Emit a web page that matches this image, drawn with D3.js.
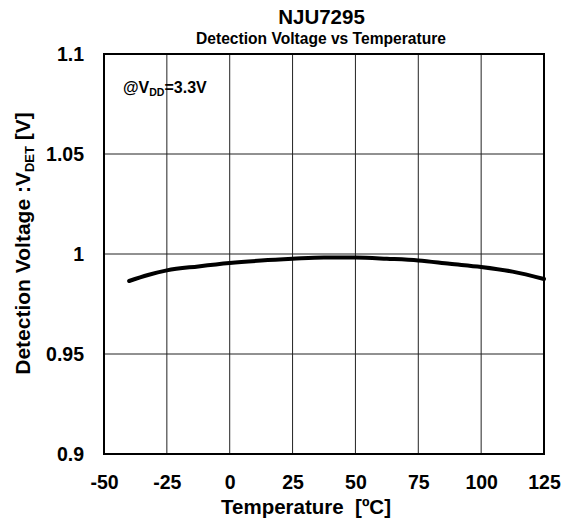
<!DOCTYPE html>
<html>
<head>
<meta charset="utf-8">
<script src="https://cdn.jsdelivr.net/npm/d3@7/dist/d3.min.js"></script>
<style>
  html, body { margin: 0; padding: 0; background: #fff; }
  svg { display: block; font-family: "Liberation Sans", Arial, Helvetica, sans-serif; font-weight: bold; }
</style>
</head>
<body>
<svg id="chart" width="561" height="527"></svg>
<script>
// ---- data ----
const temperatures = [-40, -32.5, -25, -12.5, 0, 12.5, 25, 37.5, 50, 62.5, 75, 87.5, 100, 112.5, 125];
const vdet = [0.9865, 0.9895, 0.9918, 0.9938, 0.9955, 0.9967, 0.9976, 0.9983, 0.9982, 0.9976, 0.9968, 0.9951, 0.9935, 0.9912, 0.9875];
const xTicks = [-50, -25, 0, 25, 50, 75, 100, 125];
const xTickLabels = ["-50", "-25", "0", "25", "50", "75", "100", "125"];
const yTicks = [0.9, 0.95, 1.0, 1.05, 1.1];
const yTickLabels = ["0.9", "0.95", "1", "1.05", "1.1"];
const title = "NJU7295";
const subtitle = "Detection Voltage vs Temperature";

// ---- layout ----
const margin = { left: 104, top: 54 };
const W = 440, H = 400;

const svg = d3.select("#chart");
const g = svg.append("g").attr("transform", `translate(${margin.left},${margin.top})`);

const x = d3.scaleLinear().domain([-50, 125]).range([0, W]);
const y = d3.scaleLinear().domain([0.9, 1.1]).range([H, 0]);

// grid
g.append("g").selectAll("line.v").data(xTicks.slice(1, -1)).join("line")
  .attr("x1", d => x(d)).attr("x2", d => x(d)).attr("y1", 0).attr("y2", H)
  .attr("stroke", "#222").attr("stroke-width", 1);
g.append("g").selectAll("line.h").data(yTicks.slice(1, -1)).join("line")
  .attr("y1", d => y(d)).attr("y2", d => y(d)).attr("x1", 0).attr("x2", W)
  .attr("stroke", "#222").attr("stroke-width", 1);

// axes (labels only, via d3 axes)
const xAxis = d3.axisBottom(x).tickValues(xTicks).tickSize(0).tickPadding(21)
  .tickFormat((d, i) => xTickLabels[i]);
const xg = g.append("g").attr("transform", `translate(0,${H})`).call(xAxis);
xg.select(".domain").remove();
xg.selectAll("text").attr("font-size", 19.5).attr("font-weight", "bold").attr("fill", "#000")
  .attr("font-family", '"Liberation Sans", Arial, sans-serif');

const yAxis = d3.axisLeft(y).tickValues(yTicks).tickSize(0).tickPadding(20)
  .tickFormat((d, i) => yTickLabels[i]);
const yg = g.append("g").call(yAxis);
yg.select(".domain").remove();
yg.selectAll("text").attr("font-size", 19.5).attr("font-weight", "bold").attr("fill", "#000")
  .attr("font-family", '"Liberation Sans", Arial, sans-serif');

// curve
const line = d3.line().x((d, i) => x(temperatures[i])).y(d => y(d)).curve(d3.curveMonotoneX);
g.append("path").datum(vdet).attr("d", line)
  .attr("fill", "none").attr("stroke", "#000").attr("stroke-width", 4)
  .attr("stroke-linecap", "round").attr("stroke-linejoin", "round");

// frame
g.append("rect").attr("x", 0).attr("y", 0).attr("width", W).attr("height", H)
  .attr("fill", "none").attr("stroke", "#000").attr("stroke-width", 2);

// titles
svg.append("text").attr("x", 321.5).attr("y", 23.5).attr("text-anchor", "middle")
  .attr("font-size", 20.5).text(title);
svg.append("text").attr("x", 321).attr("y", 44).attr("text-anchor", "middle")
  .attr("font-size", 15.6).text(subtitle);

// x axis label
svg.append("text").attr("x", 306).attr("y", 514).attr("text-anchor", "middle")
  .attr("font-size", 20.5).attr("xml:space", "preserve").text("Temperature  [ºC]");

// y axis label
const yl = svg.append("text").attr("transform", "translate(30,243.5) rotate(-90)")
  .attr("text-anchor", "middle").attr("font-size", 21);
yl.append("tspan").text("Detection Voltage :V");
yl.append("tspan").attr("font-size", 13).attr("dy", 4).text("DET");
yl.append("tspan").attr("dy", -4).text(" [V]");

// annotation
const ann = svg.append("text").attr("x", 123).attr("y", 93).attr("font-size", 16);
ann.append("tspan").text("@V");
ann.append("tspan").attr("font-size", 10.5).attr("dy", 3).text("DD");
ann.append("tspan").attr("dy", -3).text("=3.3V");
</script>
</body>
</html>
